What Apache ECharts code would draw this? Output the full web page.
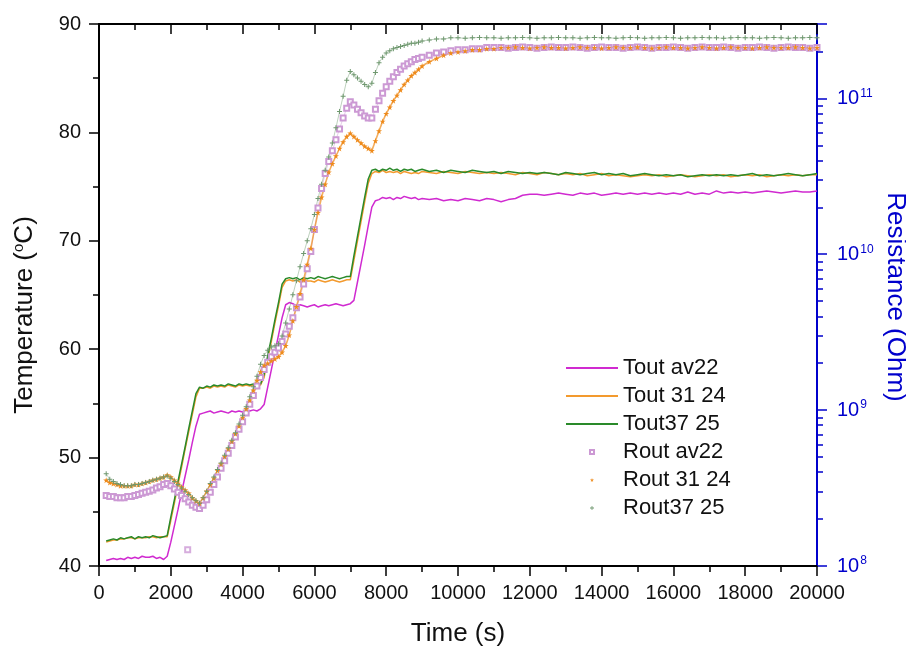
<!DOCTYPE html>
<html><head><meta charset="utf-8">
<script src="https://cdn.jsdelivr.net/npm/echarts@6/dist/echarts.min.js"></script>
<style>html,body{margin:0;padding:0;background:#fff}#c{width:906px;height:648px}</style>
</head><body><div id="c"></div>
<script>
// ---- data ----
const timeTicks = [0, 2000, 4000, 6000, 8000, 10000, 12000, 14000, 16000, 18000, 20000];
const tempTicks = [40, 50, 60, 70, 80, 90];
const resTicks = [1e8, 1e9, 1e10, 1e11];
const resMax = 3e11;

const time = [
  200,300,400,500,600,700,800,900,1000,1100,
  1200,1300,1400,1500,1600,1700,1800,1900,2000,2100,
  2200,2300,2400,2500,2600,2700,2800,2900,3000,3100,
  3200,3300,3400,3500,3600,3700,3800,3900,4000,4100,
  4200,4300,4400,4500,4600,4700,4800,4900,5000,5100,
  5200,5300,5400,5500,5600,5700,5800,5900,6000,6100,
  6200,6300,6400,6500,6600,6700,6800,6900,7000,7100,
  7200,7300,7400,7500,7600,7700,7800,7900,8000,8100,
  8200,8300,8400,8500,8600,8700,8800,8900,9000,
  9200,9400,9600,9800,10000,10200,10400,10600,10800,11000,
  11200,11400,11600,11800,12000,12200,12400,12600,12800,13000,
  13200,13400,13600,13800,14000,14200,14400,14600,14800,15000,
  15200,15400,15600,15800,16000,16200,16400,16600,16800,17000,
  17200,17400,17600,17800,18000,18200,18400,18600,18800,19000,
  19200,19400,19600,19800,20000
];

const toutAv22 = [
  40.5,40.6,40.7,40.6,40.7,40.6,40.8,40.7,40.8,40.7,
  40.9,40.8,40.8,40.9,40.7,40.8,40.6,40.9,42.2,43.7,
  45.2,46.8,48.3,49.8,51.4,52.9,54.0,54.1,54.2,54.3,
  54.1,54.2,54.3,54.2,54.1,54.3,54.2,54.3,54.2,54.4,
  54.3,54.4,54.3,54.5,54.9,56.5,58.1,59.7,61.3,62.9,
  64.1,64.3,64.2,64.0,64.1,64.0,63.9,64.0,64.1,63.9,
  64.0,64.1,64.0,64.1,64.2,64.1,64.0,64.1,64.2,64.5,
  66.2,67.9,69.6,71.4,73.1,73.7,73.8,74.0,73.9,74.0,
  73.8,74.0,73.9,74.1,74.0,73.9,74.0,73.8,73.9,
  73.8,73.9,73.7,73.8,73.7,73.9,73.8,73.7,73.9,73.8,
  73.6,73.8,73.9,74.2,74.3,74.3,74.2,74.3,74.4,74.3,
  74.2,74.4,74.3,74.4,74.2,74.3,74.4,74.3,74.4,74.3,
  74.4,74.3,74.4,74.3,74.4,74.3,74.5,74.3,74.4,74.3,
  74.6,74.4,74.5,74.4,74.5,74.4,74.5,74.6,74.5,74.4,
  74.5,74.6,74.5,74.5,74.6
];

const tout3124 = [
  42.2,42.3,42.4,42.4,42.5,42.5,42.6,42.6,42.5,42.6,
  42.6,42.6,42.7,42.7,42.6,42.7,42.7,42.7,44.2,45.8,
  47.5,49.1,50.8,52.4,54.0,55.6,56.4,56.4,56.5,56.4,
  56.6,56.5,56.6,56.5,56.7,56.6,56.5,56.7,56.6,56.7,
  56.6,56.7,56.6,56.7,57.4,59.1,60.7,62.4,64.0,65.7,
  66.3,66.4,66.3,66.4,66.2,66.4,66.3,66.3,66.2,66.4,
  66.3,66.2,66.3,66.4,66.3,66.2,66.3,66.4,66.4,68.2,
  70.0,71.8,73.6,75.3,76.2,76.4,76.3,76.5,76.3,76.4,
  76.3,76.4,76.2,76.4,76.3,76.2,76.3,76.2,76.4,
  76.3,76.2,76.4,76.3,76.2,76.4,76.3,76.2,76.3,76.2,
  76.3,76.2,76.1,76.3,76.2,76.1,76.3,76.2,76.1,76.2,
  76.1,76.2,76.0,76.1,76.2,76.0,76.1,76.0,75.9,76.0,
  76.1,76.0,76.1,75.9,76.0,76.1,76.0,75.9,76.0,76.1,
  76.0,76.1,75.9,76.0,76.1,76.0,76.1,75.9,76.0,76.1,
  76.0,76.1,76.0,76.1,76.1
];

const tout3725 = [
  42.3,42.4,42.5,42.4,42.6,42.5,42.6,42.7,42.5,42.7,
  42.6,42.7,42.6,42.8,42.7,42.6,42.7,42.8,44.5,46.1,
  47.8,49.4,51.0,52.7,54.3,55.9,56.5,56.4,56.6,56.5,
  56.7,56.6,56.7,56.6,56.8,56.7,56.6,56.8,56.7,56.8,
  56.7,56.8,56.7,56.8,57.7,59.4,61.0,62.7,64.3,66.0,
  66.5,66.6,66.5,66.6,66.4,66.6,66.5,66.6,66.5,66.7,
  66.6,66.5,66.6,66.7,66.6,66.5,66.6,66.7,66.7,68.6,
  70.4,72.2,74.0,75.7,76.5,76.6,76.4,76.6,76.5,76.7,
  76.5,76.6,76.4,76.6,76.5,76.6,76.4,76.5,76.6,
  76.4,76.5,76.3,76.5,76.4,76.3,76.5,76.4,76.3,76.4,
  76.2,76.4,76.3,76.2,76.3,76.2,76.3,76.2,76.1,76.3,
  76.2,76.1,76.2,76.3,76.1,76.2,76.1,76.2,76.0,76.1,
  76.2,76.1,76.0,76.1,76.0,76.1,75.9,76.0,76.1,76.0,
  76.1,76.0,76.1,76.0,76.1,76.2,76.0,76.1,76.0,76.1,
  76.2,76.1,76.0,76.1,76.2
];

const routAv22 = [
  2.83e8,2.79e8,2.79e8,2.74e8,2.74e8,2.74e8,2.79e8,2.79e8,2.83e8,2.88e8,
  2.93e8,2.97e8,3.02e8,3.07e8,3.17e8,3.22e8,3.33e8,3.38e8,3.27e8,3.12e8,
  2.97e8,2.83e8,2.70e8,2.57e8,2.45e8,2.38e8,2.34e8,2.45e8,2.66e8,2.97e8,
  3.33e8,3.72e8,4.23e8,4.73e8,5.29e8,5.92e8,6.73e8,7.53e8,8.42e8,9.57e8,
  1.09e9,1.24e9,1.43e9,1.62e9,1.82e9,2.03e9,2.20e9,2.35e9,2.50e9,2.76e9,
  3.08e9,3.45e9,3.92e9,4.53e9,5.32e9,6.44e9,8.06e9,1.04e10,1.44e10,1.98e10,
  2.64e10,3.30e10,3.94e10,4.62e10,5.42e10,6.37e10,7.47e10,8.63e10,9.50e10,9.06e10,
  8.50e10,8.10e10,7.72e10,7.47e10,7.47e10,8.50e10,9.66e10,1.080e11,1.189e11,1.289e11,
  1.374e11,1.465e11,1.537e11,1.612e11,1.665e11,1.719e11,1.775e11,1.804e11,1.833e11,
  1.893e11,1.954e11,1.986e11,2.018e11,2.050e11,2.050e11,2.084e11,2.084e11,2.117e11,2.117e11,
  2.117e11,2.100e11,2.117e11,2.134e11,2.117e11,2.100e11,2.117e11,2.134e11,2.117e11,2.117e11,
  2.134e11,2.117e11,2.100e11,2.117e11,2.134e11,2.117e11,2.117e11,2.100e11,2.117e11,2.134e11,
  2.117e11,2.100e11,2.117e11,2.117e11,2.134e11,2.117e11,2.100e11,2.117e11,2.134e11,2.117e11,
  2.117e11,2.134e11,2.117e11,2.100e11,2.117e11,2.117e11,2.134e11,2.117e11,2.100e11,2.117e11,
  2.134e11,2.117e11,2.117e11,2.100e11,2.117e11
];
const routAv22Outlier = [[2470, 1.27e8]];

const rout3124 = [
  3.55e8,3.43e8,3.38e8,3.33e8,3.27e8,3.27e8,3.27e8,3.27e8,3.33e8,3.33e8,
  3.38e8,3.43e8,3.49e8,3.55e8,3.60e8,3.66e8,3.72e8,3.84e8,3.72e8,3.55e8,
  3.38e8,3.22e8,3.07e8,2.93e8,2.74e8,2.62e8,2.53e8,2.74e8,3.02e8,3.33e8,
  3.66e8,4.10e8,4.51e8,5.04e8,5.64e8,6.31e8,7.06e8,7.90e8,8.98e8,1.02e9,
  1.16e9,1.34e9,1.55e9,1.76e9,1.94e9,2.00e9,2.07e9,2.13e9,2.20e9,2.35e9,
  2.59e9,3.03e9,3.74e9,4.60e9,5.58e9,6.87e9,8.60e9,1.09e10,1.44e10,1.85e10,
  2.32e10,2.81e10,3.36e10,3.81e10,4.27e10,4.77e10,5.25e10,5.69e10,5.97e10,5.69e10,
  5.42e10,5.17e10,4.93e10,4.77e10,4.62e10,5.34e10,6.17e10,7.12e10,7.97e10,8.77e10,
  9.66e10,1.046e11,1.133e11,1.228e11,1.309e11,1.396e11,1.465e11,1.537e11,1.612e11,
  1.719e11,1.804e11,1.893e11,1.954e11,1.986e11,2.018e11,2.050e11,2.050e11,2.084e11,2.084e11,
  2.117e11,2.117e11,2.134e11,2.117e11,2.100e11,2.117e11,2.134e11,2.117e11,2.117e11,2.100e11,
  2.117e11,2.134e11,2.117e11,2.117e11,2.100e11,2.117e11,2.134e11,2.117e11,2.117e11,2.134e11,
  2.117e11,2.100e11,2.117e11,2.134e11,2.117e11,2.117e11,2.100e11,2.117e11,2.134e11,2.117e11,
  2.100e11,2.117e11,2.134e11,2.117e11,2.117e11,2.100e11,2.117e11,2.134e11,2.117e11,2.117e11,
  2.117e11,2.134e11,2.117e11,2.100e11,2.117e11
];

const rout3725 = [
  3.90e8,3.60e8,3.49e8,3.38e8,3.33e8,3.27e8,3.27e8,3.27e8,3.33e8,3.33e8,
  3.38e8,3.43e8,3.49e8,3.55e8,3.60e8,3.66e8,3.72e8,3.78e8,3.66e8,3.49e8,
  3.33e8,3.17e8,3.02e8,2.88e8,2.74e8,2.62e8,2.53e8,2.74e8,3.02e8,3.38e8,
  3.72e8,4.16e8,4.58e8,5.13e8,5.73e8,6.41e8,7.17e8,8.16e8,9.27e8,1.05e9,
  1.22e9,1.41e9,1.65e9,1.97e9,2.24e9,2.42e9,2.54e9,2.59e9,2.67e9,2.99e9,
  3.62e9,4.46e9,5.49e9,6.76e9,8.32e9,1.01e10,1.22e10,1.46e10,1.80e10,2.28e10,
  2.81e10,3.46e10,4.20e10,5.17e10,6.47e10,8.23e10,1.030e11,1.309e11,1.488e11,1.418e11,
  1.352e11,1.289e11,1.228e11,1.189e11,1.248e11,1.465e11,1.692e11,1.833e11,1.954e11,2.018e11,
  2.084e11,2.117e11,2.151e11,2.186e11,2.221e11,2.257e11,2.257e11,2.294e11,2.331e11,
  2.368e11,2.407e11,2.407e11,2.446e11,2.446e11,2.430e11,2.446e11,2.462e11,2.446e11,2.446e11,
  2.430e11,2.446e11,2.446e11,2.462e11,2.446e11,2.430e11,2.446e11,2.446e11,2.462e11,2.446e11,
  2.446e11,2.430e11,2.446e11,2.462e11,2.446e11,2.446e11,2.430e11,2.446e11,2.462e11,2.446e11,
  2.430e11,2.446e11,2.446e11,2.462e11,2.446e11,2.430e11,2.446e11,2.446e11,2.462e11,2.446e11,
  2.446e11,2.430e11,2.446e11,2.462e11,2.446e11,2.446e11,2.430e11,2.446e11,2.462e11,2.446e11,
  2.430e11,2.446e11,2.446e11,2.462e11,2.446e11
];

// ---- chart ----
const checks = {toutAv22, tout3124, tout3725, routAv22, rout3124, rout3725};
for (const k in checks) if (checks[k].length !== time.length) throw new Error(k + ' length ' + checks[k].length + ' vs ' + time.length);

function pairs(xs, ys) { return xs.map((x, i) => [x, ys[i]]); }

const FONT = 'Liberation Sans, Arial, sans-serif';
const STAR = 'path://M50,0 L61,35 L98,35 L68,57 L79,91 L50,70 L21,91 L32,57 L2,35 L39,35 Z';
const PLUS = 'path://M4,0 L6,0 L6,4 L10,4 L10,6 L6,6 L6,10 L4,10 L4,6 L0,6 L0,4 L4,4 Z';

const C = {
  tAv: '#d02ad0', t31: '#f39a2e', t37: '#2a8a2a',
  rAv: '#cc99d4', r31: '#ee8a1a', r37: '#6f986f', blue: '#0000cc'
};

const chart = echarts.init(document.getElementById('c'), null, {renderer: 'canvas'});

const tempSeries = [
  ['Tout av22', toutAv22, C.tAv],
  ['Tout 31 24', tout3124, C.t31],
  ['Tout37 25', tout3725, C.t37]
].map(([name, vals, color]) => ({
  type: 'line', name, xAxisIndex: 0, yAxisIndex: 0,
  data: pairs(time, vals), symbol: 'none',
  lineStyle: {width: 1.5, color}, itemStyle: {color}, z: 2
}));

const resSeries = [
  ['Rout av22', routAv22, C.rAv, 'emptyRect', 5, 1, 0.5],
  ['Rout 31 24', rout3124, C.r31, STAR, 6, 1.6, 0.7],
  ['Rout37 25', rout3725, C.r37, PLUS, 5, 1, 0.45]
].map(([name, vals, color, symbol, size, lw, op]) => ({
  type: 'line', name, xAxisIndex: 0, yAxisIndex: 1,
  data: pairs(time, vals), symbol, symbolSize: size, showSymbol: true,
  itemStyle: {color, borderWidth: 1},
  lineStyle: {width: lw, color, opacity: op}, z: 3
}));

const outlierSeries = {
  type: 'scatter', name: 'Rout av22', xAxisIndex: 0, yAxisIndex: 1,
  data: routAv22Outlier, symbol: 'emptyRect', symbolSize: 5,
  itemStyle: {color: C.rAv, borderWidth: 1}, z: 3
};

chart.setOption({
  animation: false,
  backgroundColor: '#fff',
  textStyle: {fontFamily: FONT},
  grid: {left: 99, right: 89, top: 24, bottom: 82, containLabel: false},
  legend: {
    orient: 'vertical', left: 560, top: 352,
    itemWidth: 52, itemHeight: 5, itemGap: 6,
    textStyle: {fontSize: 22, color: '#111', fontFamily: FONT},
    data: [
      {name: 'Tout av22', itemStyle: {opacity: 0}},
      {name: 'Tout 31 24', itemStyle: {opacity: 0}},
      {name: 'Tout37 25', itemStyle: {opacity: 0}},
      {name: 'Rout av22', lineStyle: {opacity: 0}},
      {name: 'Rout 31 24', lineStyle: {opacity: 0}},
      {name: 'Rout37 25', lineStyle: {opacity: 0}}
    ]
  },
  xAxis: [{
    type: 'value', position: 'bottom',
    min: timeTicks[0], max: timeTicks[timeTicks.length - 1], interval: timeTicks[1] - timeTicks[0],
    axisLine: {onZero: false, lineStyle: {color: '#000', width: 2}},
    axisTick: {length: 10, lineStyle: {color: '#000', width: 1.5}},
    minorTick: {show: true, splitNumber: 2, length: 6, lineStyle: {color: '#000', width: 1.5}},
    axisLabel: {fontSize: 20, color: '#111', margin: 17, formatter: v => String(v)},
    splitLine: {show: false}
  }, {
    type: 'value', position: 'top',
    min: timeTicks[0], max: timeTicks[timeTicks.length - 1], interval: timeTicks[1] - timeTicks[0],
    axisLine: {onZero: false, lineStyle: {color: '#000', width: 2}},
    axisTick: {inside: true, length: 10, lineStyle: {color: '#000', width: 1.5}},
    minorTick: {show: true, splitNumber: 2, length: 6, lineStyle: {color: '#000', width: 1.5}},
    axisLabel: {show: false},
    splitLine: {show: false}
  }],
  yAxis: [{
    type: 'value', position: 'left',
    min: tempTicks[0], max: tempTicks[tempTicks.length - 1], interval: tempTicks[1] - tempTicks[0],
    axisLine: {show: true, onZero: false, lineStyle: {color: '#000', width: 2}},
    axisTick: {show: true, length: 10, lineStyle: {color: '#000', width: 1.5}},
    minorTick: {show: true, splitNumber: 2, length: 6, lineStyle: {color: '#000', width: 1.5}},
    axisLabel: {fontSize: 20, color: '#111', margin: 18},
    splitLine: {show: false}
  }, {
    type: 'log', logBase: 10, position: 'right',
    min: resTicks[0], max: resMax,
    axisLine: {show: true, onZero: false, lineStyle: {color: C.blue, width: 2}},
    axisTick: {show: true, length: 10, lineStyle: {color: C.blue, width: 1.5}},
    minorTick: {show: true, splitNumber: 9, length: 6, lineStyle: {color: C.blue, width: 1.5}},
    axisLabel: {
      fontSize: 20, color: C.blue, margin: 20,
      formatter: v => {
        const hit = resTicks.find(t => Math.abs(t - v) / t < 1e-6);
        return hit ? '10{sup|' + Math.round(Math.log10(hit)) + '}' : '';
      },
      rich: {sup: {fontSize: 12, color: C.blue, verticalAlign: 'top', padding: [0, 0, 10, 1]}}
    },
    splitLine: {show: false},
    minorSplitLine: {show: false}
  }],
  graphic: [
    {type: 'text', x: 25, y: 315, rotation: Math.PI / 2,
      style: {text: 'Temperature ({sup|o}C)', fontSize: 26, fontFamily: FONT, fill: '#111',
        align: 'center', verticalAlign: 'middle',
        rich: {sup: {fontSize: 15, fill: '#111', verticalAlign: 'top', padding: [0, 0, 12, 0]}}}},
    {type: 'text', x: 458, y: 634,
      style: {text: 'Time (s)', fontSize: 26, fontFamily: FONT, fill: '#111', align: 'center', verticalAlign: 'middle'}},
    {type: 'text', x: 895, y: 297, rotation: -Math.PI / 2,
      style: {text: 'Resistance (Ohm)', fontSize: 26, fontFamily: FONT, fill: C.blue, align: 'center', verticalAlign: 'middle'}}
  ],
  series: [...tempSeries, ...resSeries, outlierSeries]
});
</script>
</body></html>
